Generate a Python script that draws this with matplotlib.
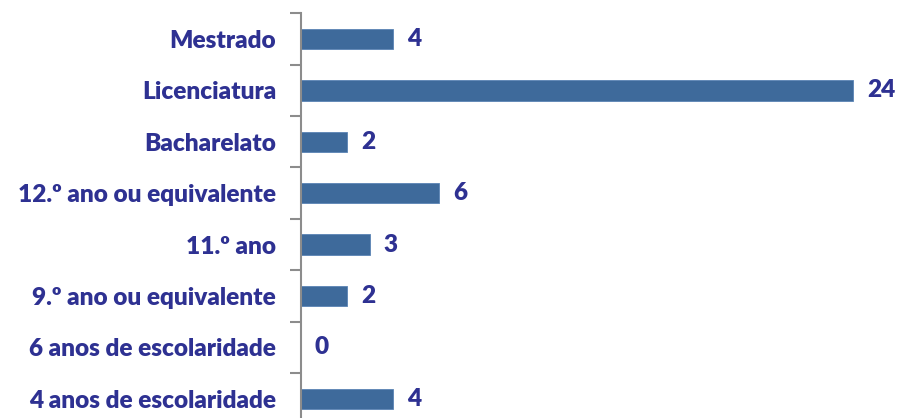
import matplotlib
matplotlib.use('Agg')
import matplotlib.pyplot as plt
import numpy as np

categorias = ['Mestrado', 'Licenciatura', 'Bacharelato', '12.º ano ou equivalente',
              '11.º ano', '9.º ano ou equivalente', '6 anos de escolaridade',
              '4 anos de escolaridade']
valores = [4, 24, 2, 6, 3, 2, 0, 4]

bar_color = '#3E6A9B'
txt_color = '#2E3192'
axis_color = '#8C8C8C'

plt.rcParams['font.family'] = ['Lato', 'DejaVu Sans']

fig = plt.figure(figsize=(8.98, 4.18), dpi=100)
ax = fig.add_axes([0.3352, -0.0155, 0.6403, 0.9837])

y = np.arange(len(categorias))
ax.barh(y, valores, height=0.4, color=bar_color, edgecolor='#5A84B5', linewidth=0.6)

for yi, v in zip(y, valores):
    ax.text(v + 0.6, yi, str(v), va='center', ha='left', fontsize=17.6,
            fontweight='heavy', color=txt_color)

ax.set_xlim(0, 25)
ax.set_ylim(len(categorias) - 0.5, -0.5)
ax.set_yticks(y)
ax.set_yticklabels(categorias, fontsize=17.6, fontweight='heavy', color=txt_color)
ax.tick_params(axis='y', which='major', length=0, pad=18)
ax.set_yticks(np.arange(-0.5, len(categorias), 1), minor=True)
ax.tick_params(axis='y', which='minor', length=8, width=1.5, color=axis_color)
ax.set_xticks([])

for s in ['top', 'right', 'bottom']:
    ax.spines[s].set_visible(False)
ax.spines['left'].set_color(axis_color)
ax.spines['left'].set_linewidth(1.5)

fig.savefig('out.png', dpi=100)
